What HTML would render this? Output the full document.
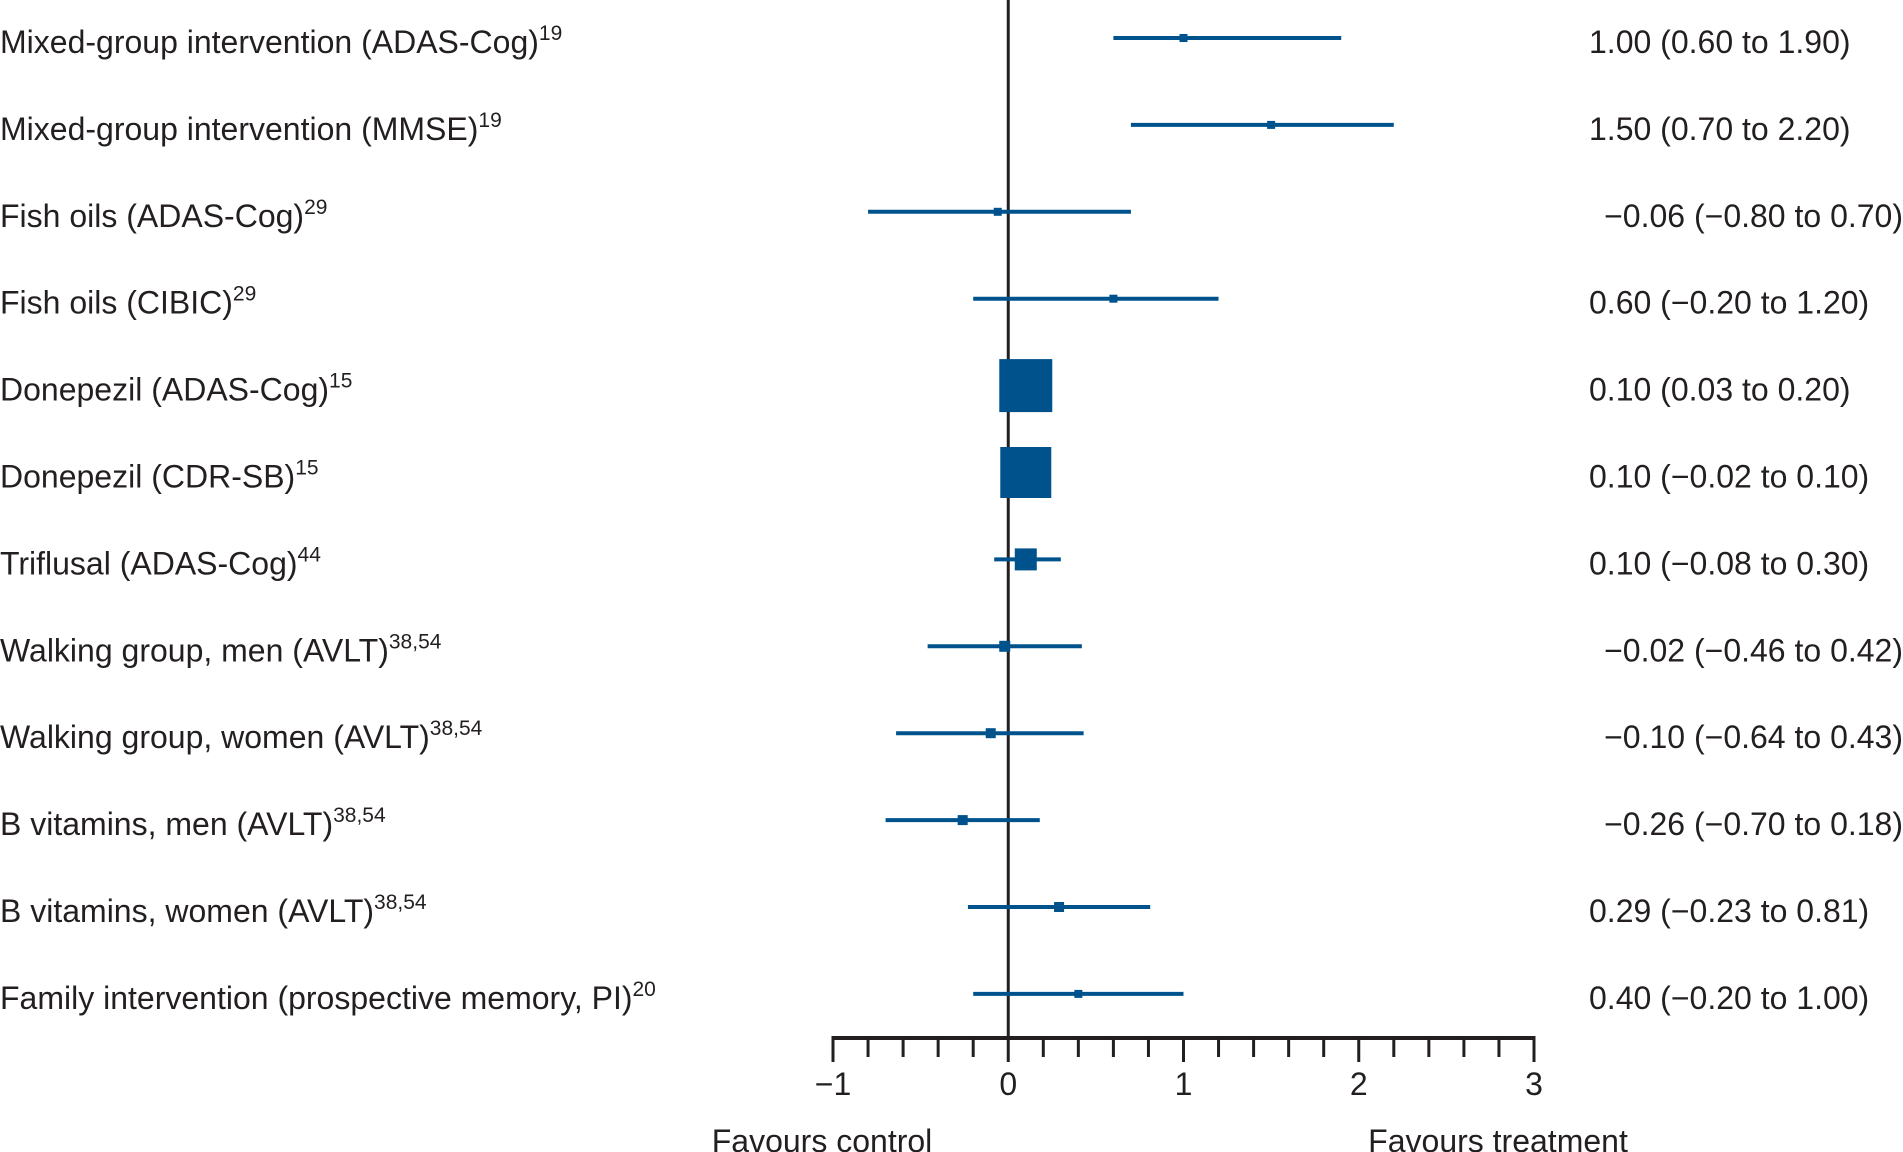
<!DOCTYPE html>
<html><head><meta charset="utf-8"><style>
html,body{margin:0;padding:0;background:#fff;}
svg{display:block;font-family:"Liberation Sans",sans-serif;}
</style></head><body>
<svg id="chart" width="1903" height="1152" viewBox="0 0 1903 1152" xmlns="http://www.w3.org/2000/svg"></svg>
<script>
const labels = ["Mixed-group intervention (ADAS-Cog)","Mixed-group intervention (MMSE)","Fish oils (ADAS-Cog)","Fish oils (CIBIC)","Donepezil (ADAS-Cog)","Donepezil (CDR-SB)","Triflusal (ADAS-Cog)","Walking group, men (AVLT)","Walking group, women (AVLT)","B vitamins, men (AVLT)","B vitamins, women (AVLT)","Family intervention (prospective memory, PI)"];
const refs = ["19","19","29","29","15","15","44","38,54","38,54","38,54","38,54","20"];
const est = [1.00,1.50,-0.06,0.60,0.10,0.10,0.10,-0.02,-0.10,-0.26,0.29,0.40];
const lo = [0.60,0.70,-0.80,-0.20,0.03,-0.02,-0.08,-0.46,-0.64,-0.70,-0.23,-0.20];
const hi = [1.90,2.20,0.70,1.20,0.20,0.10,0.30,0.42,0.43,0.18,0.81,1.00];
const weights = [8,8,8,8,53,51,22,11,10,10,10,8];
const printed = ["1.00 (0.60 to 1.90)","1.50 (0.70 to 2.20)","\u22120.06 (\u22120.80 to 0.70)","0.60 (\u22120.20 to 1.20)","0.10 (0.03 to 0.20)","0.10 (\u22120.02 to 0.10)","0.10 (\u22120.08 to 0.30)","\u22120.02 (\u22120.46 to 0.42)","\u22120.10 (\u22120.64 to 0.43)","\u22120.26 (\u22120.70 to 0.18)","0.29 (\u22120.23 to 0.81)","0.40 (\u22120.20 to 1.00)"];
const tickLabels = [-1,0,1,2,3];

const svg = document.getElementById('chart');
const NS = 'http://www.w3.org/2000/svg';
const X0 = 833, X1 = 1534, xmin = -1, xmax = 3;
const xs = v => X0 + (v - xmin) / (xmax - xmin) * (X1 - X0);
const ys = i => 38 + i * 86.9;
const BLUE = '#00528c', AX = '#231f20', TXT = '#231f20';
function mk(tag, attrs){const e=document.createElementNS(NS,tag);for(const k in attrs)e.setAttribute(k,attrs[k]);svg.appendChild(e);return e;}

let z = mk('line',{x1:xs(0),x2:xs(0),y1:0,y2:1040,stroke:AX,'stroke-width':3});



labels.forEach((lab,i)=>{
  const y = ys(i);
  const t = mk('text',{x:0,y:y+15,'font-size':32,fill:TXT});
  
  
  t.textContent = lab;
  const s = document.createElementNS(NS,'tspan');
  s.setAttribute('font-size',21); s.setAttribute('dy',-13);
  s.textContent = refs[i]; t.appendChild(s);

  const l = mk('line',{x1:xs(lo[i]),x2:xs(hi[i]),y1:y,y2:y,stroke:BLUE,'stroke-width':4});
  
  
  const w = weights[i];
  const r = mk('rect',{x:xs(est[i])-w/2,y:y-w/2,width:w,height:w,fill:BLUE});
  
  

  const v = mk('text',{x:1903,y:y+15,'font-size':32,fill:TXT,'text-anchor':'end'});
  
  
  v.textContent = printed[i];
  if(!printed[i].startsWith('\u2212')){v.setAttribute('text-anchor','start');v.setAttribute('x',1589);}
});

let ax = mk('line',{x1:xs(-1)-1.5,x2:xs(3)+1.5,y1:1038,y2:1038,stroke:AX,'stroke-width':4});


for(let k=0;k<=20;k++){
  const v = -1 + k*0.2;
  const tk = mk('line',{x1:xs(v),x2:xs(v),y1:1038,y2:(k%5===0)?1062:1057,stroke:AX,'stroke-width':3});
  
  
}
tickLabels.forEach(v=>{
  const t = mk('text',{x:xs(v),y:1095,'font-size':32,fill:TXT,'text-anchor':'middle'});
  
  
  t.textContent = v<0 ? '\u2212'+Math.abs(v) : String(v);
});
const fc = mk('text',{x:822,y:1152,'font-size':32,fill:TXT,'text-anchor':'middle'});


fc.textContent='Favours control';
const ft = mk('text',{x:1498,y:1152,'font-size':32,fill:TXT,'text-anchor':'middle'});


ft.textContent='Favours treatment';
</script>
</body></html>
